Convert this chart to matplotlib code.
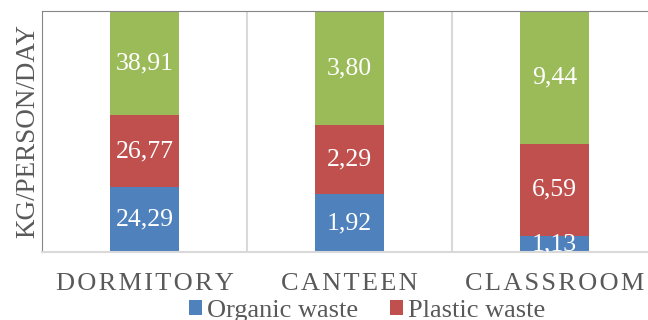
import numpy as np
import matplotlib.pyplot as plt

# data (kg/person/day)
places = ["DORMITORY", "CANTEEN", "CLASSROOM"]
organic = [24.29, 1.92, 1.13]
plastic = [26.77, 2.29, 6.59]
other = [38.91, 3.80, 9.44]

series_names = ["Organic waste", "Plastic waste"]
colors = ["#4F81BD", "#C0504D", "#9BBB59"]

plt.rcParams['font.family'] = ['Liberation Serif', 'DejaVu Serif']

fig = plt.figure(figsize=(6.48, 3.2), dpi=100)
ax = fig.add_axes([42 / 648, 1 - 252 / 320, 615 / 648, 241 / 320])

vals = np.array([organic, plastic, other], dtype=float)
shares = vals / vals.sum(axis=0)
x = np.arange(len(places))

bottom = np.zeros(len(places))
bars = []
for i in range(3):
    b = ax.bar(x, shares[i], 0.34, bottom=bottom, color=colors[i], zorder=2)
    bars.append(b)
    for j in range(len(places)):
        txt = f"{vals[i, j]:.2f}".replace('.', ',')
        ax.text(x[j], bottom[j] + shares[i, j] / 2, txt, ha='center', va='center',
                color='white', fontsize=18.5, clip_on=True, zorder=3)
    bottom += shares[i]

ax.set_xlim(-0.5, 2.5)
ax.set_ylim(0, 1)
ax.set_yticks([])
for xv in [0.5, 1.5]:
    ax.axvline(xv, color='#D9D9D9', lw=1.5, zorder=1)

ax.spines['left'].set_color('#868686')
ax.spines['top'].set_color('#868686')
ax.spines['bottom'].set_color('#D9D9D9')
ax.spines['bottom'].set_linewidth(1.5)
ax.spines['right'].set_color('#D9D9D9')

ax.set_xticks(x)
ax.set_xticklabels(['\u200a'.join(p) for p in places], fontsize=19, color='#595959')
ax.tick_params(axis='x', length=0, pad=15)

ax.set_ylabel("KG/PERSON/DAY", fontsize=19.5, color='#595959', labelpad=1)

ax.legend([bars[0], bars[1]], series_names, loc='upper center', ncol=2,
          bbox_to_anchor=(367 / 648, 1 - 300 / 320), bbox_transform=fig.transFigure,
          frameon=False, fontsize=19, handlelength=0.5, handleheight=0.5,
          handletextpad=0.2, columnspacing=1.2, borderaxespad=0, borderpad=0,
          labelcolor='#595959')

fig.savefig("out.png", dpi=100)
